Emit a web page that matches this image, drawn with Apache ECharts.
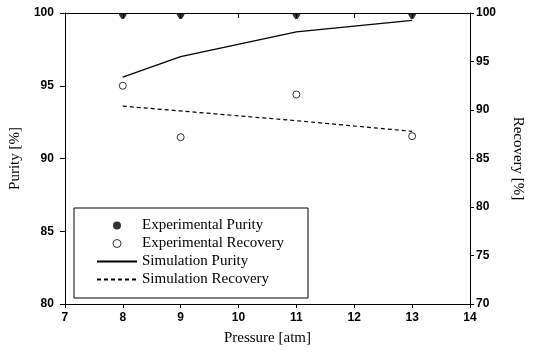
<!DOCTYPE html>
<html>
<head>
<meta charset="utf-8">
<script src="https://cdn.jsdelivr.net/npm/echarts@6/dist/echarts.min.js"></script>
<style>
  html, body { margin: 0; padding: 0; background: #fff; }
  #chart { width: 533px; height: 353px; }
</style>
</head>
<body>
<div id="chart"></div>
<script>
// Pressure values (atm) at which runs were made
const pressure = [8, 9, 11, 13];
// Experimental results
const expPurity = [100, 100, 100, 100];
const expRecovery = [92.5, 87.2, 91.6, 87.3];
// Simulation results
const simPurity = [95.6, 97.0, 98.7, 99.5];
const simRecovery = [90.4, 89.9, 88.9, 87.8];

const pairs = (xs, ys) => xs.map((x, i) => [x, ys[i]]);

const tickFont = { fontFamily: 'Liberation Sans', fontSize: 12, fontWeight: 'bold', color: '#000' };
const titleFont = { fontFamily: 'Liberation Serif', fontSize: 15, color: '#000' };
const black = { color: '#000', width: 1 };

// inner part of a dot lying on the top frame; the leading moveTo keeps the
// flat edge at the symbol centre so only the part below the frame is drawn
const clippedDot = 'path://M5,0 M0,5 L10,5 L8.5,7.5 L6.3,10 L3.7,10 L1.5,7.5 Z';

const chart = echarts.init(document.getElementById('chart'), null, { renderer: 'canvas' });
chart.setOption({
  animation: false,
  backgroundColor: '#fff',
  grid: { left: 64, right: 53, top: 13, bottom: 49 },
  xAxis: [
    {
      type: 'value', position: 'bottom', min: 7, max: 14, interval: 1,
      name: 'Pressure [atm]', nameLocation: 'middle', nameGap: 27,
      nameTextStyle: titleFont,
      axisLine: { show: true, lineStyle: black },
      axisTick: { show: true, inside: false, length: 4, lineStyle: black },
      axisLabel: Object.assign({ margin: 8 }, tickFont),
      splitLine: { show: false }
    },
    {
      type: 'value', position: 'top', min: 7, max: 14, interval: 1,
      axisLine: { show: true, lineStyle: black },
      axisTick: { show: true, inside: true, length: 5, lineStyle: black },
      axisLabel: { show: false },
      splitLine: { show: false }
    }
  ],
  yAxis: [
    {
      type: 'value', position: 'left', min: 80, max: 100, interval: 5,
      name: 'Purity [%]', nameLocation: 'middle', nameGap: 40, nameRotate: 90,
      nameTextStyle: titleFont,
      axisLine: { show: true, lineStyle: black },
      axisTick: { show: true, inside: false, length: 5, lineStyle: black },
      axisLabel: Object.assign({ margin: 11 }, tickFont),
      splitLine: { show: false }
    },
    {
      type: 'value', position: 'right', min: 70, max: 100, interval: 5,
      name: 'Recovery [%]', nameLocation: 'middle', nameGap: 40, nameRotate: -90,
      nameTextStyle: titleFont,
      axisLine: { show: true, lineStyle: black },
      axisTick: { show: true, inside: false, length: 4, lineStyle: black },
      axisLabel: Object.assign({ margin: 6 }, tickFont),
      splitLine: { show: false }
    }
  ],
  legend: {
    orient: 'vertical',
    left: 74, top: 208,
    padding: [10, 24, 11, 22],
    itemWidth: 40, itemHeight: 8, itemGap: 3,
    borderColor: '#000', borderWidth: 1, borderRadius: 0,
    backgroundColor: '#fff',
    textStyle: { fontFamily: 'Liberation Serif', fontSize: 15, color: '#000', lineHeight: 15 },
    data: [
      { name: 'Experimental Purity', icon: 'circle', itemStyle: { color: '#000', borderWidth: 0 } },
      { name: 'Experimental Recovery', icon: 'circle', itemStyle: { color: '#fff', borderColor: '#000', borderWidth: 1 } },
      { name: 'Simulation Purity', itemStyle: { opacity: 0 } },
      { name: 'Simulation Recovery', itemStyle: { opacity: 0 } }
    ]
  },
  series: [
    {
      name: 'Experimental Purity', type: 'scatter', xAxisIndex: 0, yAxisIndex: 0,
      data: pairs(pressure, expPurity),
      symbol: clippedDot, symbolSize: [9, 12],
      itemStyle: { color: '#000' }, clip: false, z: 5
    },
    {
      name: 'Experimental Recovery', type: 'scatter', xAxisIndex: 0, yAxisIndex: 1,
      data: pairs(pressure, expRecovery),
      symbol: 'circle', symbolSize: 7,
      itemStyle: { color: '#fff', borderColor: '#000', borderWidth: 1 }, z: 5
    },
    {
      name: 'Simulation Purity', type: 'line', xAxisIndex: 0, yAxisIndex: 0,
      data: pairs(pressure, simPurity),
      symbol: 'none', color: '#000',
      lineStyle: { color: '#000', width: 1.3, type: 'solid' }
    },
    {
      name: 'Simulation Recovery', type: 'line', xAxisIndex: 0, yAxisIndex: 1,
      data: pairs(pressure, simRecovery),
      symbol: 'none', color: '#000',
      lineStyle: { color: '#000', width: 1.2, type: [4, 3] }
    }
  ]
});
</script>
</body>
</html>
